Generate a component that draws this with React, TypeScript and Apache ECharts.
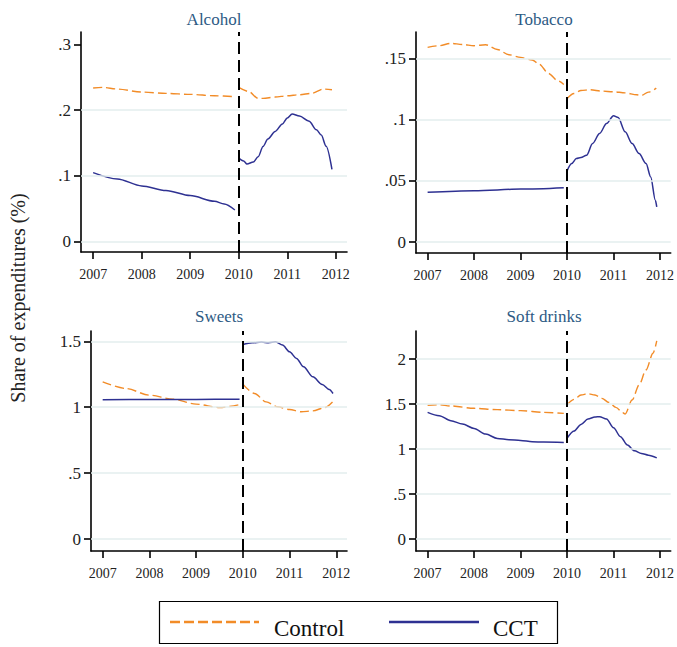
import React, { useEffect, useRef } from "react";
import * as echarts from "echarts";

// ---------- DATA ----------
const yearTicks = [2007, 2008, 2009, 2010, 2011, 2012];
const treatmentYear = 2010;

// Alcohol
const alcoholTicks = [0, 0.1, 0.2, 0.3];
const alcoholGridlines = [0, 0.1, 0.2];
const alcoholControlPreYears = [2007, 2007.2, 2007.5, 2008, 2008.5, 2009, 2009.5, 2009.92];
const alcoholControlPre = [0.2335, 0.2345, 0.232, 0.2274, 0.2254, 0.2239, 0.2218, 0.2203];
const alcoholControlPostYears = [2010, 2010.2, 2010.4, 2010.5, 2010.75, 2011, 2011.25, 2011.5, 2011.75, 2011.92];
const alcoholControlPost = [0.2345, 0.2284, 0.2178, 0.2178, 0.2198, 0.2218, 0.2234, 0.2254, 0.232, 0.231];
const alcoholCctPreYears = [2007, 2007.5, 2008, 2008.5, 2009, 2009.5, 2009.7, 2009.92];
const alcoholCctPre = [0.105, 0.0954, 0.0848, 0.0777, 0.07, 0.0614, 0.0574, 0.0482];
const alcoholCctPostYears = [2010, 2010.1, 2010.17, 2010.3, 2010.4, 2010.5, 2010.6, 2010.75, 2010.9, 2011, 2011.1, 2011.25, 2011.45, 2011.6, 2011.7, 2011.8, 2011.92];
const alcoholCctPost = [0.127, 0.1228, 0.118, 0.121, 0.129, 0.1447, 0.156, 0.1675, 0.179, 0.188, 0.194, 0.191, 0.183, 0.17, 0.162, 0.145, 0.11];

// Tobacco
const tobaccoTicks = [0, 0.05, 0.1, 0.15];
const tobaccoGridlines = [0, 0.05, 0.1, 0.15];
const tobaccoControlPreYears = [2007, 2007.25, 2007.5, 2007.75, 2008, 2008.25, 2008.5, 2008.75, 2009, 2009.25, 2009.4, 2009.6, 2009.8, 2009.93];
const tobaccoControlPre = [0.1593, 0.1607, 0.1626, 0.1617, 0.1607, 0.1615, 0.1576, 0.1533, 0.1511, 0.149, 0.1456, 0.138, 0.132, 0.129];
const tobaccoControlPostYears = [2010, 2010.15, 2010.3, 2010.5, 2010.75, 2011, 2011.25, 2011.5, 2011.6, 2011.75, 2011.92];
const tobaccoControlPost = [0.1175, 0.1216, 0.124, 0.1246, 0.1235, 0.123, 0.1221, 0.1205, 0.12, 0.1227, 0.126];
const tobaccoCctPreYears = [2007, 2008, 2009, 2009.93];
const tobaccoCctPre = [0.0407, 0.042, 0.0433, 0.0445];
const tobaccoCctPostYears = [2010, 2010.1, 2010.2, 2010.3, 2010.42, 2010.55, 2010.7, 2010.85, 2011, 2011.1, 2011.25, 2011.4, 2011.55, 2011.7, 2011.8, 2011.9, 2011.93];
const tobaccoCctPost = [0.0582, 0.0642, 0.0683, 0.0691, 0.071, 0.0806, 0.0888, 0.097, 0.1033, 0.1019, 0.0902, 0.0806, 0.0724, 0.0642, 0.0533, 0.0342, 0.0287];

// Sweets
const sweetsTicks = [0, 0.5, 1, 1.5];
const sweetsGridlines = [0, 0.5, 1, 1.5];
const sweetsControlPreYears = [2007, 2007.5, 2008, 2008.5, 2009, 2009.5, 2009.93];
const sweetsControlPre = [1.192, 1.142, 1.091, 1.061, 1.023, 0.997, 1.02];
const sweetsControlPostYears = [2010, 2010.25, 2010.5, 2010.75, 2011, 2011.25, 2011.5, 2011.75, 2011.92];
const sweetsControlPost = [1.175, 1.104, 1.04, 1.003, 0.982, 0.965, 0.972, 0.997, 1.04];
const sweetsCctPreYears = [2007, 2008, 2009, 2009.93];
const sweetsCctPre = [1.056, 1.058, 1.059, 1.061];
const sweetsCctPostYears = [2010, 2010.2, 2010.4, 2010.55, 2010.7, 2010.85, 2011, 2011.15, 2011.3, 2011.5, 2011.7, 2011.85, 2011.93];
const sweetsCctPost = [1.476, 1.489, 1.494, 1.489, 1.496, 1.471, 1.42, 1.37, 1.306, 1.23, 1.172, 1.134, 1.104];

// Soft drinks
const softTicks = [0, 0.5, 1, 1.5, 2];
const softGridlines = [0, 0.5, 1, 1.5, 2];
const softControlPreYears = [2007, 2007.25, 2007.5, 2008, 2008.5, 2009, 2009.5, 2009.93];
const softControlPre = [1.487, 1.494, 1.48, 1.454, 1.439, 1.428, 1.409, 1.398];
const softControlPostYears = [2010, 2010.15, 2010.3, 2010.45, 2010.6, 2010.75, 2010.9, 2011.05, 2011.2, 2011.25, 2011.4, 2011.55, 2011.7, 2011.85, 2011.93];
const softControlPost = [1.491, 1.554, 1.602, 1.617, 1.602, 1.565, 1.52, 1.465, 1.405, 1.39, 1.546, 1.714, 1.881, 2.067, 2.204];
const softCctPreYears = [2007, 2007.25, 2007.5, 2007.75, 2008, 2008.25, 2008.5, 2008.75, 2009, 2009.25, 2009.5, 2009.93];
const softCctPre = [1.409, 1.372, 1.316, 1.279, 1.23, 1.167, 1.119, 1.104, 1.097, 1.082, 1.078, 1.074];
const softCctPostYears = [2010, 2010.15, 2010.3, 2010.45, 2010.6, 2010.7, 2010.85, 2011, 2011.15, 2011.3, 2011.45, 2011.6, 2011.75, 2011.93];
const softCctPost = [1.119, 1.201, 1.275, 1.335, 1.357, 1.361, 1.335, 1.238, 1.138, 1.045, 0.981, 0.952, 0.933, 0.903];

// ---------- STYLE ----------
const FONT = "Liberation Serif";
const ORANGE = "#f28c28";
const NAVY = "#2e3192";
const TITLE_COLOR = "#2d5a84";
const GRID_COLOR = "#e3eeee";
const X_MIN = 2006.75;
const X_MAX = 2012.23;

const pairs = (xs: number[], ys: number[]) => xs.map((x, i) => [x, ys[i]]);
const fmtY = (v: number) => String(+v.toFixed(4)).replace(/^0\./, ".");

const panels = [
  {
    title: "Alcohol", titleX: 214, titleY: 19,
    grid: { left: 81, top: 32, width: 266, height: 220 },
    yMin: -0.0157, yMax: 0.3187, ticks: alcoholTicks, gridlines: alcoholGridlines,
    ctrlPre: pairs(alcoholControlPreYears, alcoholControlPre),
    ctrlPost: pairs(alcoholControlPostYears, alcoholControlPost),
    cctPre: pairs(alcoholCctPreYears, alcoholCctPre),
    cctPost: pairs(alcoholCctPostYears, alcoholCctPost),
  },
  {
    title: "Tobacco", titleX: 544, titleY: 19,
    grid: { left: 416, top: 32, width: 256, height: 221 },
    yMin: -0.009, yMax: 0.1719, ticks: tobaccoTicks, gridlines: tobaccoGridlines,
    ctrlPre: pairs(tobaccoControlPreYears, tobaccoControlPre),
    ctrlPost: pairs(tobaccoControlPostYears, tobaccoControlPost),
    cctPre: pairs(tobaccoCctPreYears, tobaccoCctPre),
    cctPost: pairs(tobaccoCctPostYears, tobaccoCctPost),
  },
  {
    title: "Sweets", titleX: 219, titleY: 316,
    grid: { left: 91, top: 331, width: 256, height: 220 },
    yMin: -0.091, yMax: 1.578, ticks: sweetsTicks, gridlines: sweetsGridlines,
    ctrlPre: pairs(sweetsControlPreYears, sweetsControlPre),
    ctrlPost: pairs(sweetsControlPostYears, sweetsControlPost),
    cctPre: pairs(sweetsCctPreYears, sweetsCctPre),
    cctPost: pairs(sweetsCctPostYears, sweetsCctPost),
  },
  {
    title: "Soft drinks", titleX: 544, titleY: 316,
    grid: { left: 416, top: 331, width: 256, height: 220 },
    yMin: -0.133, yMax: 2.314, ticks: softTicks, gridlines: softGridlines,
    ctrlPre: pairs(softControlPreYears, softControlPre),
    ctrlPost: pairs(softControlPostYears, softControlPost),
    cctPre: pairs(softCctPreYears, softCctPre),
    cctPost: pairs(softCctPostYears, softCctPost),
  },
];

function buildOption() {
  const grid: any[] = [];
  const xAxis: any[] = [];
  const yAxis: any[] = [];
  const series: any[] = [];
  const graphic: any[] = [];

  panels.forEach((p, i) => {
    grid.push({ ...p.grid, containLabel: false });
    xAxis.push({
      type: "value", gridIndex: i, min: X_MIN, max: X_MAX,
      axisLine: { show: true, onZero: false, lineStyle: { color: "#000", width: 1.6 } },
      axisTick: { show: true, length: 7, customValues: yearTicks, lineStyle: { color: "#000", width: 1.6 } },
      axisLabel: {
        customValues: yearTicks, formatter: (v: number) => String(Math.round(v)),
        fontFamily: FONT, fontSize: 14, color: "#222", margin: 15,
      },
      splitLine: { show: false },
    });
    yAxis.push({
      type: "value", gridIndex: i, min: p.yMin, max: p.yMax,
      axisLine: { show: true, onZero: false, lineStyle: { color: "#000", width: 1.6 } },
      axisTick: { show: true, length: 7, customValues: p.ticks, lineStyle: { color: "#000", width: 1.6 } },
      axisLabel: {
        customValues: p.ticks, formatter: fmtY,
        fontFamily: FONT, fontSize: 17, color: "#222", margin: 10,
      },
      splitLine: { show: false },
    });
    // gridlines
    series.push({
      type: "line", xAxisIndex: i, yAxisIndex: i, data: [], silent: true, z: 1,
      markLine: {
        silent: true, symbol: ["none", "none"], label: { show: false },
        lineStyle: { color: GRID_COLOR, width: 1.6, type: "solid" },
        emphasis: { disabled: true },
        data: p.gridlines.map((g) => ({ yAxis: g })),
      },
    });
    const lineCommon = {
      type: "line", xAxisIndex: i, yAxisIndex: i, showSymbol: false, symbol: "none",
      smooth: 0.3, smoothMonotone: "x", silent: true, z: 3,
    };
    const ctrlStyle = { color: ORANGE, width: 1.4, type: [9, 4] };
    const cctStyle = { color: NAVY, width: 1.5, type: "solid" };
    series.push({ ...lineCommon, name: "Control", data: p.ctrlPre, lineStyle: ctrlStyle, itemStyle: { color: ORANGE } });
    series.push({ ...lineCommon, name: "Control", data: p.ctrlPost, lineStyle: ctrlStyle, itemStyle: { color: ORANGE } });
    series.push({ ...lineCommon, name: "CCT", data: p.cctPre, lineStyle: cctStyle, itemStyle: { color: NAVY } });
    series.push({ ...lineCommon, name: "CCT", data: p.cctPost, lineStyle: cctStyle, itemStyle: { color: NAVY } });
    // treatment line
    series.push({
      type: "line", xAxisIndex: i, yAxisIndex: i, data: [], silent: true, z: 5,
      markLine: {
        silent: true, symbol: ["none", "none"], label: { show: false },
        lineStyle: { color: "#000", width: 2, type: [12, 6] },
        emphasis: { disabled: true },
        data: [{ xAxis: treatmentYear }],
      },
    });
    graphic.push({
      type: "text", x: p.titleX, y: p.titleY,
      style: { text: p.title, fill: TITLE_COLOR, fontFamily: FONT, fontSize: 17, textAlign: "center", textVerticalAlign: "middle" },
    });
  });

  // y-axis title
  graphic.push({
    type: "text", x: 18, y: 298, rotation: Math.PI / 2,
    style: { text: "Share of expenditures (%)", fill: "#222", fontFamily: FONT, fontSize: 20, textAlign: "center", textVerticalAlign: "middle" },
  });

  // legend
  graphic.push({
    type: "rect", shape: { x: 159.5, y: 601.5, width: 398, height: 42 },
    style: { fill: "#fff", stroke: "#000", lineWidth: 1.2 },
  });
  graphic.push({
    type: "line", shape: { x1: 170, y1: 622, x2: 259, y2: 622 },
    style: { stroke: ORANGE, lineWidth: 2.6, lineDash: [10, 4] },
  });
  graphic.push({
    type: "text", x: 274, y: 628,
    style: { text: "Control", fill: "#111", fontFamily: FONT, fontSize: 23, textAlign: "left", textVerticalAlign: "middle" },
  });
  graphic.push({
    type: "line", shape: { x1: 389, y1: 622, x2: 479, y2: 622 },
    style: { stroke: NAVY, lineWidth: 2.6 },
  });
  graphic.push({
    type: "text", x: 493, y: 628,
    style: { text: "CCT", fill: "#111", fontFamily: FONT, fontSize: 23, textAlign: "left", textVerticalAlign: "middle" },
  });

  return {
    animation: false,
    backgroundColor: "#fff",
    textStyle: { fontFamily: FONT },
    grid, xAxis, yAxis, series, graphic,
  };
}

export default function App() {
  const ref = useRef<HTMLDivElement>(null);
  useEffect(() => {
    if (!ref.current) return;
    const chart = echarts.init(ref.current, undefined, { renderer: "svg" });
    chart.setOption(buildOption() as any);
    return () => chart.dispose();
  }, []);
  return (
    <div
      ref={ref}
      style={{ position: "absolute", left: 0, top: 0, width: 677, height: 647, background: "#fff" }}
    />
  );
}
